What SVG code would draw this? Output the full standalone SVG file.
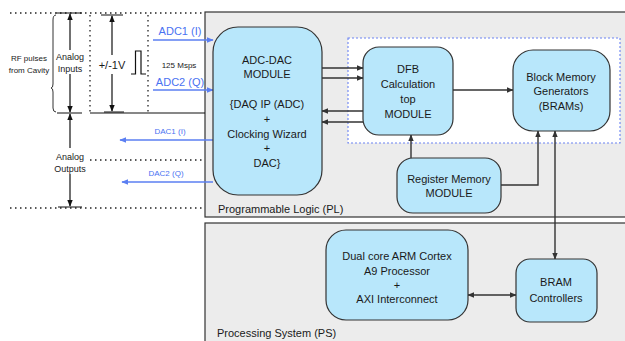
<svg xmlns="http://www.w3.org/2000/svg" width="625" height="341" viewBox="0 0 625 341">
<style>
text{font-family:"Liberation Sans",Arial,sans-serif;fill:#1a1a1a;text-anchor:middle}
.box{fill:#b8e7fb;stroke:#333;stroke-width:1.2}
.area{fill:#ececec;stroke:#333;stroke-width:1.2}
.t{font-size:11px}
.s{font-size:9px}
.xs{font-size:8px}
.blue{fill:#4a72f2}
.ln{stroke:#333;stroke-width:1.4;fill:none}
.bl{stroke:#5b7ff2;stroke-width:1.4;fill:none}
.dot{stroke:#222;stroke-width:1.3;stroke-dasharray:1.5 3.5;fill:none}
.blk{stroke:#111;stroke-width:1.2;fill:none}
</style>
<defs>
<marker id="ah" viewBox="0 0 10 10" refX="9" refY="5" markerWidth="5" markerHeight="5" orient="auto-start-reverse"><path d="M0,1 L10,5 L0,9 z" fill="#333"/></marker>
<marker id="bh" viewBox="0 0 10 10" refX="9" refY="5" markerWidth="5" markerHeight="5" orient="auto-start-reverse"><path d="M0,1 L10,5 L0,9 z" fill="#5b7ff2"/></marker>
<marker id="kh" viewBox="0 0 10 10" refX="9" refY="5" markerWidth="6" markerHeight="6" orient="auto-start-reverse"><path d="M0,1 L10,5 L0,9 z" fill="#111"/></marker>
</defs>
<rect width="625" height="341" fill="#fff"/>
<g id="pl-area">
<rect class="area" x="205" y="12" width="430" height="205"/>
<text x="218" y="213" class="t" style="text-anchor:start">Programmable Logic (PL)</text>
</g>
<g id="ps-area">
<rect class="area" x="205" y="223" width="430" height="130"/>
<text x="217" y="337" class="t" style="text-anchor:start">Processing System (PS)</text>
</g>
<rect id="dfb-region" x="348" y="38" width="272" height="105" fill="#fff" stroke="#6a82f2" stroke-width="1.1" stroke-dasharray="2 2"/>
<g id="left-annotations">
<path class="dot" d="M10,13 H205 M90,15 V112 M148,15 V112 M90,160 H205 M10,208 H205"/>
<path class="blk" d="M90,113 H205"/>
<path d="M56,15 Q53,15 53,20 V84 Q53,88 51,88 Q53,88 53,92 V108 Q53,112 56,112" stroke="#333" stroke-width="1" fill="none"/>
<text x="29" y="61" class="xs">RF pulses</text>
<text x="29" y="73" class="xs">from Cavity</text>
<path class="blk" d="M56,13 H82 M57,113 H82 M58,207 H82 M101,15 H123 M104,112 H124"/>
<line class="blk" x1="70" y1="50" x2="70" y2="14" marker-end="url(#kh)"/>
<line class="blk" x1="70" y1="74" x2="70" y2="112" marker-end="url(#kh)"/>
<line class="blk" x1="70" y1="114" x2="70" y2="148" marker-start="url(#kh)"/>
<line class="blk" x1="70" y1="174" x2="70" y2="206" marker-end="url(#kh)"/>
<text x="70" y="60" class="s">Analog</text>
<text x="70" y="72" class="s">Inputs</text>
<text x="70" y="160" class="s">Analog</text>
<text x="70" y="172" class="s">Outputs</text>
<line class="blk" x1="112" y1="55" x2="112" y2="16" marker-end="url(#kh)"/>
<line class="blk" x1="112" y1="74" x2="112" y2="111" marker-end="url(#kh)"/>
<text x="112" y="69" class="t">+/-1V</text>
<path class="blk" d="M131,74 H135.5 V51 H141 V74 H146"/>
<text x="179" y="68" class="xs">125 Msps</text>
<text x="180" y="35" class="t blue">ADC1 (I)</text>
<text x="180" y="86" class="t blue">ADC2 (Q)</text>
<text x="170" y="134" class="xs blue">DAC1 (I)</text>
<text x="166" y="176" class="xs blue">DAC2 (Q)</text>
</g>
<g id="connectors">
<line class="bl" x1="153" y1="40" x2="213" y2="40" marker-end="url(#bh)"/>
<line class="bl" x1="153" y1="90" x2="213" y2="90" marker-end="url(#bh)"/>
<line class="bl" x1="213" y1="140" x2="120" y2="140" marker-end="url(#bh)"/>
<line class="bl" x1="213" y1="182" x2="122" y2="182" marker-end="url(#bh)"/>
<line class="ln" x1="322" y1="68" x2="363" y2="68" marker-end="url(#ah)"/>
<line class="ln" x1="322" y1="78" x2="363" y2="78" marker-end="url(#ah)"/>
<line class="ln" x1="363" y1="111" x2="322" y2="111" marker-end="url(#ah)" stroke-width="1.8"/>
<line class="ln" x1="363" y1="122" x2="322" y2="122" marker-end="url(#ah)" stroke-width="1.8"/>
<line class="ln" x1="453" y1="90" x2="513" y2="90" marker-end="url(#ah)"/>
<line class="ln" x1="411" y1="158" x2="411" y2="135" marker-end="url(#ah)"/>
<path class="ln" d="M501,185 H538 V131" marker-end="url(#ah)"/>
<line class="ln" x1="555" y1="131" x2="555" y2="259" marker-start="url(#ah)" marker-end="url(#ah)"/>
<line class="ln" x1="468" y1="295" x2="516" y2="295" marker-start="url(#ah)" marker-end="url(#ah)"/>
</g>
<g id="adc-dac">
<rect class="box" x="213" y="27" width="109" height="168" rx="25"/>
<text x="267" y="64" class="t">ADC-DAC</text>
<text x="267" y="78" class="t">MODULE</text>
<text x="267" y="108" class="t">{DAQ IP (ADC)</text>
<text x="267" y="123" class="t">+</text>
<text x="267" y="138" class="t">Clocking Wizard</text>
<text x="267" y="152" class="t">+</text>
<text x="267" y="167" class="t">DAC}</text>
</g>
<g id="dfb">
<rect class="box" x="363" y="47" width="90" height="88" rx="16"/>
<text x="408" y="73" class="t">DFB</text>
<text x="408" y="88" class="t">Calculation</text>
<text x="408" y="103" class="t">top</text>
<text x="408" y="118" class="t">MODULE</text>
</g>
<g id="bram-gen">
<rect class="box" x="513" y="50" width="97" height="81" rx="20"/>
<text x="561" y="81" class="t">Block Memory</text>
<text x="561" y="95" class="t">Generators</text>
<text x="561" y="110" class="t">(BRAMs)</text>
</g>
<g id="register">
<rect class="box" x="397" y="158" width="104" height="55" rx="16"/>
<text x="449" y="183" class="t">Register Memory</text>
<text x="449" y="197" class="t">MODULE</text>
</g>
<g id="arm">
<rect class="box" x="326" y="230" width="142" height="90" rx="20"/>
<text x="397" y="260" class="t">Dual core ARM Cortex</text>
<text x="397" y="275" class="t">A9 Processor</text>
<text x="397" y="289" class="t">+</text>
<text x="397" y="303" class="t">AXI Interconnect</text>
</g>
<g id="bram-ctrl">
<rect class="box" x="516" y="259" width="81" height="63" rx="14"/>
<text x="556" y="286" class="t">BRAM</text>
<text x="556" y="302" class="t">Controllers</text>
</g>
</svg>
